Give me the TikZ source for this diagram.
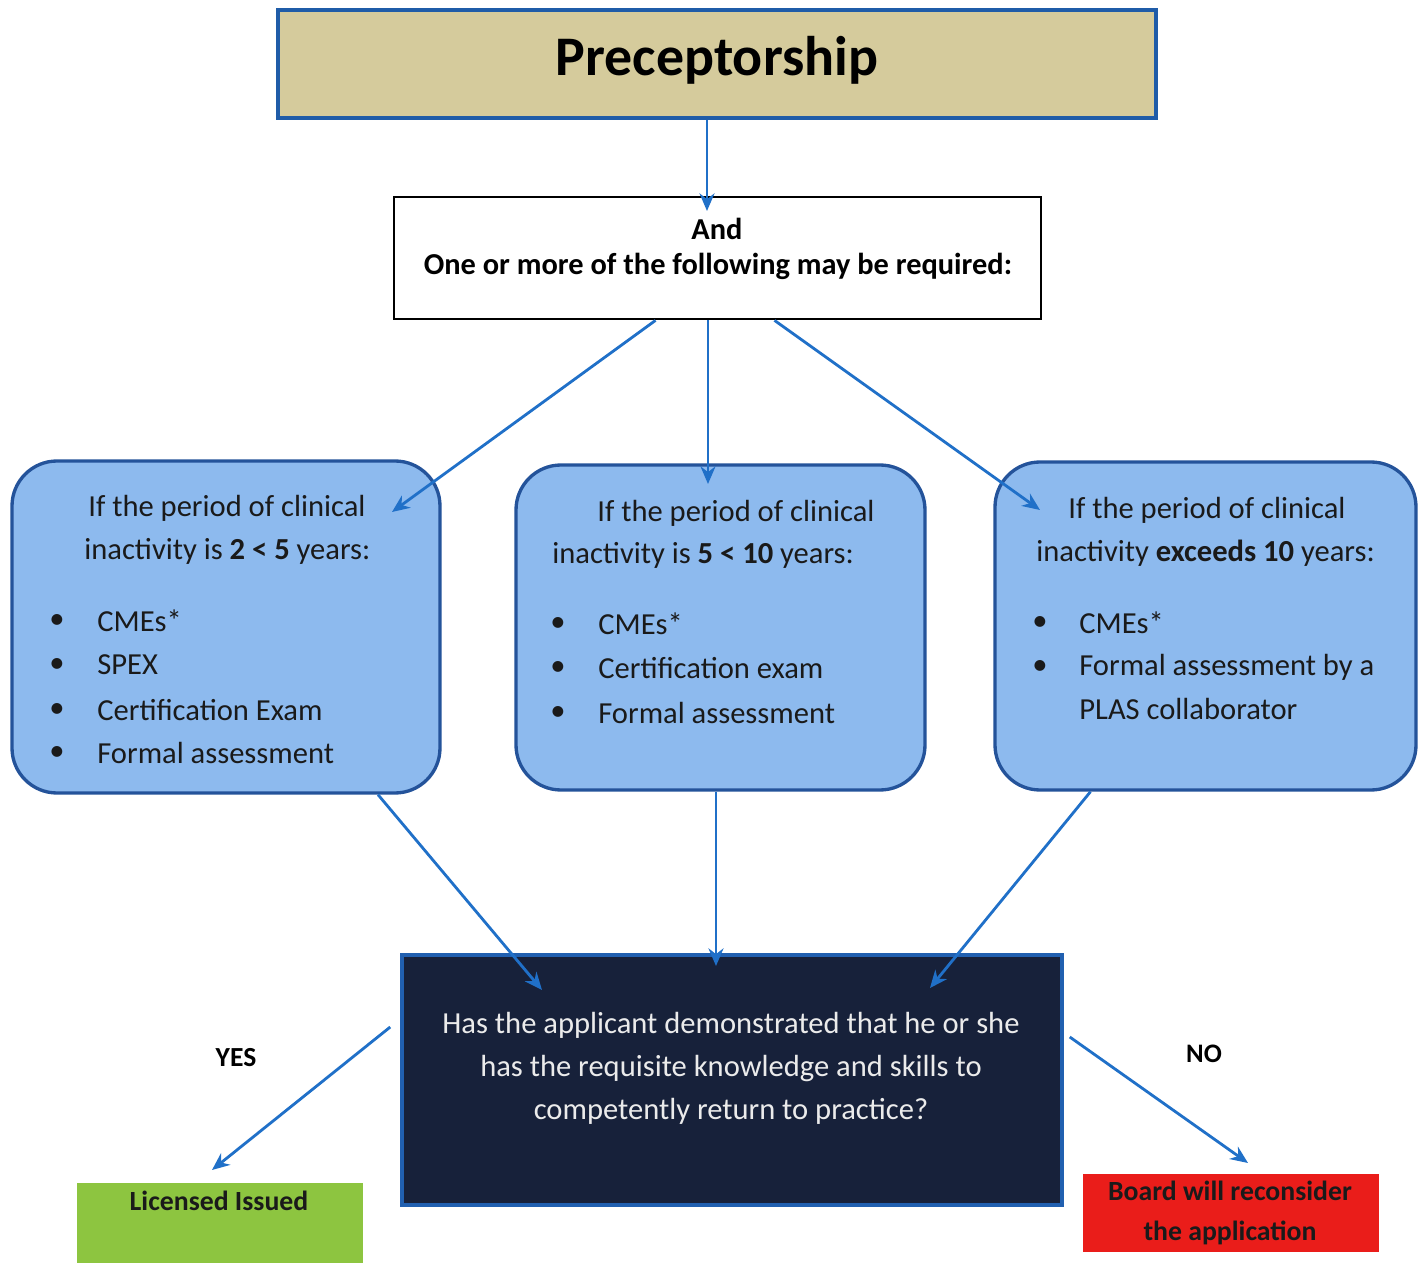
\documentclass[tikz,border=0pt]{standalone}
\usepackage{fontspec}
\setmainfont{Carlito}
\usetikzlibrary{arrows.meta,fit,calc}
\definecolor{tanfill}{HTML}{D5CB9C}
\definecolor{titleblue}{HTML}{1F5CA8}
\definecolor{boxblue}{HTML}{8DBAEE}
\definecolor{boxborder}{HTML}{24539A}
\definecolor{navyfill}{HTML}{17213A}
\definecolor{qborder}{HTML}{2160B0}
\definecolor{arrowblue}{HTML}{2070C8}
\definecolor{lgreen}{HTML}{8DC540}
\definecolor{lred}{HTML}{EA1D1A}
\definecolor{textdark}{HTML}{1A1A1A}
\begin{document}
\begin{tikzpicture}[x=0.02cm,y=-0.02cm,
  titlebox/.style={draw=titleblue,line width=2.4pt,fill=tanfill,inner sep=0pt},
  whitebox/.style={draw=black,line width=1.6pt,fill=white,inner sep=0pt},
  bluebox/.style={draw=boxborder,line width=1.9pt,fill=boxblue,rounded corners=0.9cm,inner sep=0pt},
  darkbox/.style={draw=qborder,line width=2pt,fill=navyfill,inner sep=0pt},
  greenbox/.style={fill=lgreen,inner sep=0pt},
  redbox/.style={fill=lred,inner sep=0pt},
  arr/.style={draw=arrowblue,line width=1.6pt,-{Stealth[length=10pt,width=8.5pt]}},
  body/.style={font=\fontsize{17.4}{24.4}\selectfont,text=textdark,inner sep=0pt,anchor=west},
  bul/.style={font=\fontsize{17.4}{24.4}\selectfont,text=textdark,inner sep=0pt}
]
\useasboundingbox (0,0) rectangle (1424,1263);

% boxes
\node[titlebox,fit={(278,10) (1156,118)}] (title) {};
\node[font=\bfseries\fontsize{31.8}{36}\selectfont,inner sep=0pt] (titletxt) at (717,60) {Preceptorship};

\node[whitebox,fit={(394,197) (1041,319)}] (and) {};
\node[font=\bfseries\fontsize{17.3}{21}\selectfont,inner sep=0pt] (andtxt) at (717,229) {And};
\node[font=\bfseries\fontsize{17.3}{21}\selectfont,inner sep=0pt] (reqtxt) at (718,266) {One or more of the following may be required:};

\node[bluebox,fit={(12,461) (440,793)}] (boxL) {};
\node[bluebox,fit={(516,465) (925,790)}] (boxM) {};
\node[bluebox,fit={(995,462) (1416,790)}] (boxR) {};

\node[darkbox,fit={(402,955) (1062,1205)}] (q) {};
\node[greenbox,fit={(77,1183) (363,1263)}] (yesbox) {};
\node[redbox,fit={(1083,1174) (1379,1252)}] (nobox) {};

% left box text
\node[body] (l1) at (88,508) {If the period of clinical};
\node[body] (l2) at (84,551) {inactivity is \textbf{2 < 5} years:};
\node[bul] (lb1) at (57,622) {\textbullet};
\node[bul] (lb2) at (57,666) {\textbullet};
\node[bul] (lb3) at (57,711) {\textbullet};
\node[bul] (lb4) at (57,754) {\textbullet};
\node[body] (lt1) at (97,621) {CMEs*};
\node[body] (lt2) at (97,665) {SPEX};
\node[body] (lt3) at (97,710) {Certification Exam};
\node[body] (lt4) at (97,753) {Formal assessment};

% middle box text
\node[body] (m1) at (597,513) {If the period of clinical};
\node[body] (m2) at (552,555) {inactivity is \textbf{5 < 10} years:};
\node[bul] (mb1) at (558,625) {\textbullet};
\node[bul] (mb2) at (558,669) {\textbullet};
\node[bul] (mb3) at (558,714) {\textbullet};
\node[body] (mt1) at (598,624) {CMEs*};
\node[body] (mt2) at (598,668) {Certification exam};
\node[body] (mt3) at (598,713) {Formal assessment};

% right box text
\node[body] (r1) at (1068,510) {If the period of clinical};
\node[body] (r2) at (1036,553) {inactivity \textbf{exceeds 10} years:};
\node[bul] (rb1) at (1040,624) {\textbullet};
\node[bul] (rb2) at (1040,668) {\textbullet};
\node[body] (rt1) at (1079,623) {CMEs*};
\node[body] (rt2) at (1079,667) {Formal assessment by a};
\node[body] (rt3) at (1079,709) {PLAS collaborator};

% question
\node[font=\fontsize{17.4}{24.4}\selectfont,text=white!92!black,align=center,inner sep=0pt] (qtxt) at (731,1068)
  {Has the applicant demonstrated that he or she\\has the requisite knowledge and skills to\\competently return to practice?};

% outcomes
\node[font=\bfseries\fontsize{15.8}{20}\selectfont,text=textdark,inner sep=0pt] (yestxt) at (219,1201) {Licensed Issued};
\node[font=\bfseries\fontsize{15.8}{22.7}\selectfont,text=textdark,align=center,inner sep=0pt] (notxt) at (1230,1213) {Board will reconsider\\the application};

\node[font=\bfseries\fontsize{15.7}{20}\selectfont,inner sep=0pt] (yeslbl) at (236,1058) {YES};
\node[font=\bfseries\fontsize{15.2}{20}\selectfont,inner sep=0pt] (nolbl) at (1204,1054) {NO};

% arrow tip coordinates
\coordinate (tA) at (707,211);
\coordinate (tL) at (392,512);
\coordinate (tM) at (708,484);
\coordinate (tR) at (1040,510);
\coordinate (tQL) at (542,990);
\coordinate (tQM) at (716,966);
\coordinate (tQR) at (930,988);
\coordinate (tY) at (212,1170);
\coordinate (tN) at (1248,1163);

% connectors
\draw[arr] (title.south -| tA) -- (tA);
\draw[arr] ($(and.south)+(-62,0)$) -- (tL);
\draw[arr] (and.south -| tM) -- (tM);
\draw[arr] ($(and.south)+(57,0)$) -- (tR);
\draw[arr] ($(boxL.south)+(152,0)$) -- (tQL);
\draw[arr] (boxM.south -| tQM) -- (tQM);
\draw[arr] ($(boxR.south)+(-115,0)$) -- (tQR);
\draw[arr] ($(q.west)+(-10,-53)$) -- (tY);
\draw[arr] ($(q.east)+(6,-43)$) -- (tN);
\end{tikzpicture}
\end{document}
